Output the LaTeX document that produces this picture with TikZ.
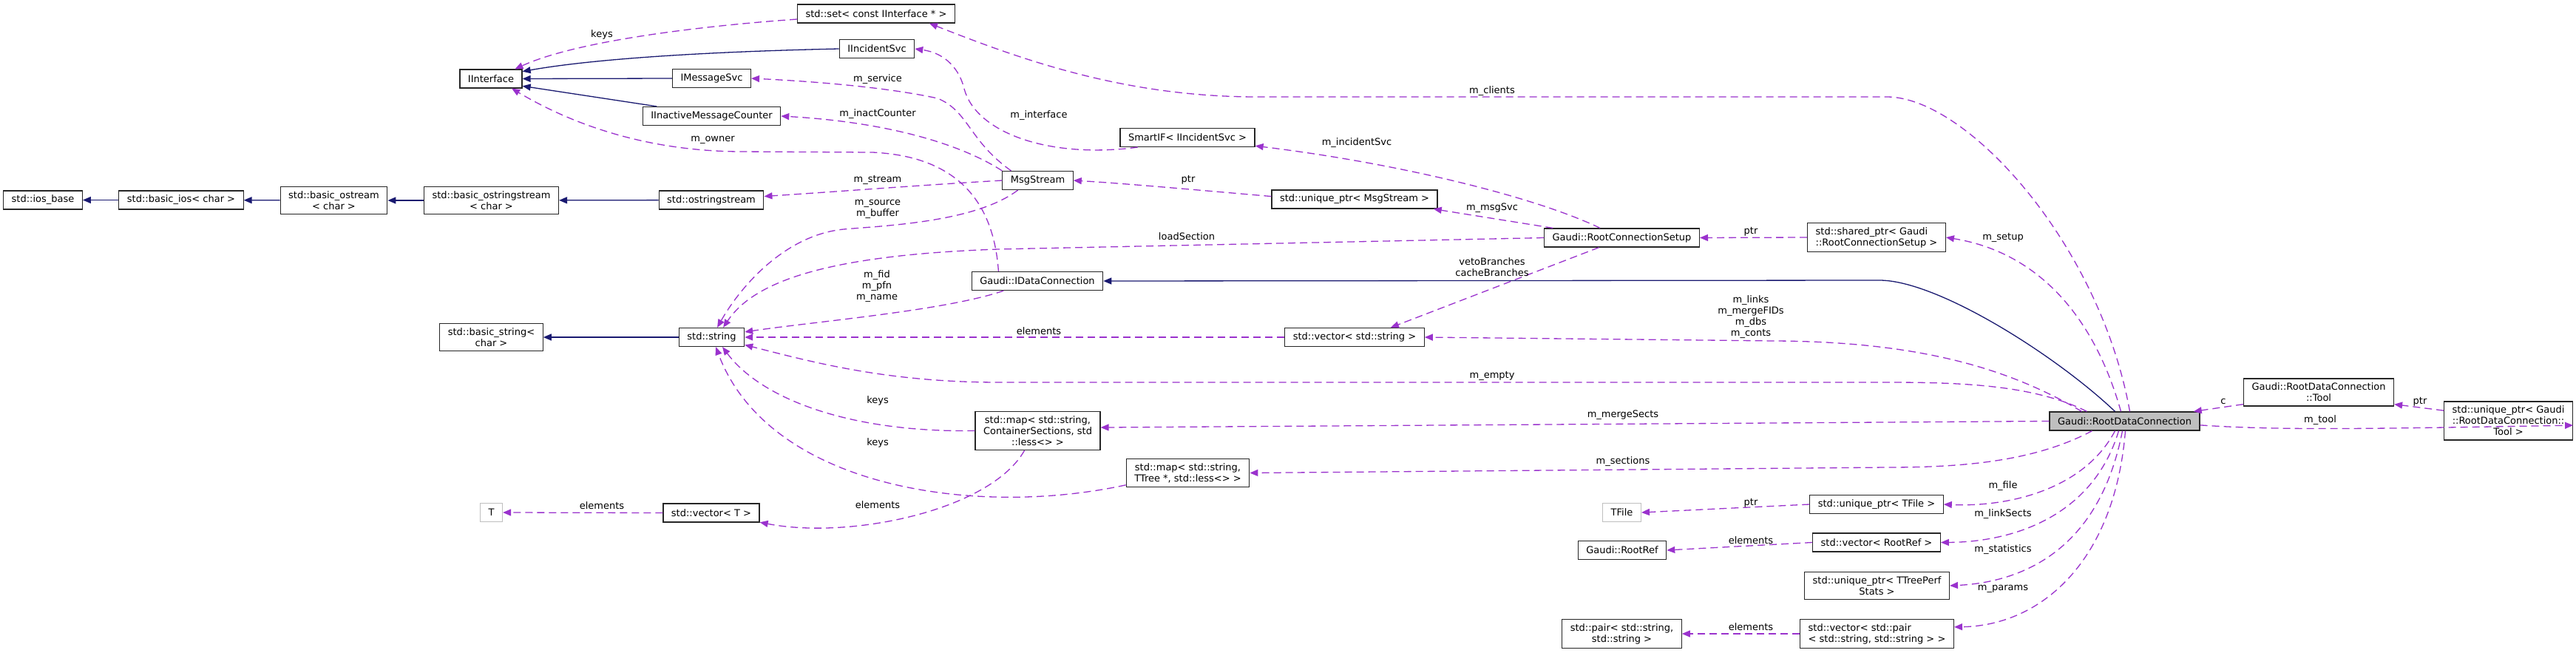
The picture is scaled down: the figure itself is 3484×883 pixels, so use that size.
\documentclass[tikz,border=0pt]{standalone}
\usepackage{fontspec}
\setmainfont{DejaVu Sans}
\usetikzlibrary{arrows.meta, calc}
\definecolor{edgepurple}{HTML}{9A32CD}
\definecolor{edgenavy}{HTML}{191970}
\definecolor{boxgray}{HTML}{BFBFBF}
\newcommand{\gfont}{\fontsize{13}{15}\selectfont}
\tikzset{
	cls/.style={draw=black!85, line width=1.2pt, fill=white, font=\gfont, align=center, inner xsep=11pt, inner ysep=6pt, minimum height=25pt},
	extcls/.style={cls, draw=boxgray},
	curcls/.style={cls, fill=boxgray},
	inherit/.style={edgenavy, line width=1.3pt, -{Triangle[length=11pt, width=9pt]}},
	member/.style={edgepurple, line width=1.3pt, dash pattern=on 10pt off 6pt, -{Triangle[length=11pt, width=9pt]}},
	lbl/.style={font=\gfont, align=center, inner sep=0pt, text=black},
}

\begin{document}
\begin{tikzpicture}[x=1pt, y=-1pt]% {{{ RootDataConnection collaboration
	\useasboundingbox (0, 0) rectangle (3484, 883);

	% classes
	\node[cls] (iosbase) at (58, 270.5) {std::ios\_base};
	\node[cls] (basicios) at (245, 270.5) {std::basic\_ios< char >};
	\node[cls] (basicostream) at (451.5, 271) {std::basic\_ostream\\< char >};
	\node[cls] (basicostrstream) at (664.5, 271) {std::basic\_ostringstream\\< char >};
	\node[cls] (ostrstream) at (962, 270.5) {std::ostringstream};
	\node[cls] (basicstring) at (664.5, 456) {std::basic\_string<\\char >};
	\node[cls] (stdstring) at (962.5, 456) {std::string};
	\node[cls] (iinterface) at (664, 106.5) {IInterface};
	\node[cls] (msgsvc) at (962.5, 106) {IMessageSvc};
	\node[cls] (inactcounter) at (962.5, 157) {IInactiveMessageCounter};
	\node[cls] (ifset) at (1185, 18.5) {std::set< const IInterface * >};
	\node[cls] (incidentsvc) at (1186, 66) {IIncidentSvc};
	\node[cls] (smartif) at (1606, 186) {SmartIF< IIncidentSvc >};
	\node[cls] (msgstream) at (1403.5, 244) {MsgStream};
	\node[cls] (idataconn) at (1403, 380) {Gaudi::IDataConnection};
	\node[cls] (map1) at (1403.5, 582.5) {std::map< std::string,\\ContainerSections, std\\::less<> >};
	\node[cls] (map2) at (1606.5, 639.5) {std::map< std::string,\\TTree *, std::less<> >};
	\node[cls] (vect) at (962, 693.5) {std::vector< T >};
	\node[extcls] (tclass) at (664.5, 693) {T};
	\node[cls] (umsgstream) at (1832, 269.5) {std::unique\_ptr< MsgStream >};
	\node[cls] (vecstring) at (1832, 456) {std::vector< std::string >};
	\node[cls] (rcs) at (2193.5, 321.5) {Gaudi::RootConnectionSetup};
	\node[cls, align=left] (sharedsetup) at (2538, 321) {std::shared\_ptr< Gaudi\\::RootConnectionSetup >};
	\node[curcls] (rdc) at (2873.5, 569.5) {Gaudi::RootDataConnection};
	\node[cls] (tool) at (3136, 530.5) {Gaudi::RootDataConnection\\::Tool};
	\node[cls] (utool) at (3392.5, 569) {std::unique\_ptr< Gaudi\\::RootDataConnection::\\Tool >};
	\node[extcls] (tfile) at (2193.5, 693) {TFile};
	\node[cls] (utfile) at (2538, 682) {std::unique\_ptr< TFile >};
	\node[cls] (rootref) at (2194, 744) {Gaudi::RootRef};
	\node[cls] (vecrootref) at (2538, 733.5) {std::vector< RootRef >};
	\node[cls] (ustats) at (2538.5, 792) {std::unique\_ptr< TTreePerf\\Stats >};
	\node[cls] (pair) at (2193.5, 857) {std::pair< std::string,\\std::string >};
	\node[cls, align=left] (vecpair) at (2538.5, 857) {std::vector< std::pair\\< std::string, std::string > >};

	% inheritance
	\draw[inherit] (basicios) -- (iosbase);
	\draw[inherit] (basicostream) -- (basicios);
	\draw[inherit] (basicostrstream) -- (basicostream);
	\draw[inherit] (ostrstream) -- (basicostrstream);
	\draw[inherit] (stdstring) -- (basicstring);
	\draw[inherit] (incidentsvc.west) .. controls (950, 70) and (800, 80) .. (iinterface.13);
	\draw[inherit] (msgsvc.west) -- (iinterface.east);
	\draw[inherit] (inactcounter.170) -- (iinterface.-13);
	\draw[inherit] ($(rdc.north)+(-13, 0)$) .. controls (2780, 480) and (2620, 379) .. (2542, 379) -- (idataconn.east);

	% members
	\draw[member] (ifset.184) .. controls (950, 35) and (780, 55) .. (iinterface.22) node[lbl] at (814, 47) {keys};
	\draw[member] ($(rdc.north)+(7, 0)$) .. controls (2840, 330) and (2660, 131) .. (2552, 131) -- (1700, 131) .. controls (1520, 131) and (1380, 80) .. ($(ifset.south)+(72, 0)$) node[lbl] at (2018, 123) {m\_clients};
	\draw[member] (msgstream.160) .. controls (1310, 190) and (1310, 150) .. (1268, 133) .. controls (1200, 118) and (1100, 110) .. (msgsvc.east) node[lbl] at (1187, 107) {m\_service};
	\draw[member] (msgstream.north west) .. controls (1300, 195) and (1200, 165) .. (inactcounter.east) node[lbl] at (1187, 154) {m\_inactCounter};
	\draw[member] (smartif.191) .. controls (1420, 215) and (1320, 180) .. (1304, 120) .. controls (1298, 95) and (1280, 72) .. (incidentsvc.east) node[lbl] at (1405, 156) {m\_interface};
	\draw[member] (rcs.156) .. controls (2080, 268) and (1900, 222) .. (smartif.-7) node[lbl] at (1835, 193) {m\_incidentSvc};
	\draw[member] (idataconn.166) .. controls (1345, 290) and (1310, 212) .. (1180, 206) -- (1000, 205) .. controls (860, 204) and (760, 160) .. (iinterface.-25) node[lbl] at (964, 189) {m\_owner};
	\draw[member] (msgstream.west) .. controls (1250, 250) and (1120, 260) .. (ostrstream.4) node[lbl] at (1187, 243) {m\_stream};
	\draw[member] (umsgstream.178) .. controls (1620, 257) and (1520, 248) .. (msgstream.east) node[lbl] at (1607, 243) {ptr};
	\draw[member] (rcs.172) -- (umsgstream.-7) node[lbl] at (2018, 281) {m\_msgSvc};
	\draw[member] (msgstream.206) .. controls (1320, 300) and (1200, 305) .. (1141, 310) .. controls (1060, 318) and (1000, 390) .. (stdstring.60) node[lbl] at (1187, 283) {m\_source\\m\_buffer};
	\draw[member] (rcs.west) -- (1350, 337) .. controls (1120, 345) and (1020, 380) .. (stdstring.40) node[lbl] at (1605, 320) {loadSection};
	\draw[member] (sharedsetup.west) -- (rcs.east) node[lbl] at (2368, 313) {ptr};
	\draw[member] ($(rdc.north)+(-5, 0)$) .. controls (2830, 420) and (2750, 340) .. (sharedsetup.east) node[lbl] at (2709, 321) {m\_setup};
	\draw[member] (rcs.203) -- (vecstring.15) node[lbl] at (2018, 361) {vetoBranches\\cacheBranches};
	\draw[member] (idataconn.196) .. controls (1280, 420) and (1100, 435) .. (stdstring.9) node[lbl] at (1186, 387) {m\_fid\\m\_pfn\\m\_name};
	\draw[member] ($(rdc.north)+(-58, 0)$) .. controls (2720, 500) and (2600, 462) .. (2400, 461) -- (vecstring.east) node[lbl] at (2368, 429) {m\_links\\m\_mergeFIDs\\m\_dbs\\m\_conts};
	\draw[member] (vecstring.west) -- (stdstring.east) node[lbl] at (1405, 448) {elements};
	\draw[member] ($(rdc.north)+(-51, 0)$) .. controls (2750, 520) and (2650, 517) .. (2552, 517) -- (1352, 517) .. controls (1200, 517) and (1100, 490) .. (stdstring.-13) node[lbl] at (2018, 508) {m\_empty};
	\draw[member] (rdc.west) -- (map1.3) node[lbl] at (2195, 561) {m\_mergeSects};
	\draw[member] (map1.west) .. controls (1150, 585) and (1030, 540) .. (stdstring.-42) node[lbl] at (1187, 542) {keys};
	\draw[member] (map2.191) .. controls (1320, 700) and (1040, 660) .. (stdstring.-67) node[lbl] at (1187, 599) {keys};
	\draw[member] (map1.236) .. controls (1340, 690) and (1150, 730) .. (vect.-11) node[lbl] at (1187, 683) {elements};
	\draw[member] (vect.west) -- (tclass.east) node[lbl] at (814, 684) {elements};
	\draw[member] ($(rdc.south)+(-44, 0)$) .. controls (2750, 625) and (2650, 632) .. (2552, 632) -- (map2.east) node[lbl] at (2195, 624) {m\_sections};
	\draw[member] (rdc.-3) .. controls (3080, 582) and (3200, 580) .. (utool.-4) node[lbl] at (3138, 568) {m\_tool};
	\draw[member] (tool.189) -- (rdc.8) node[lbl] at (3007, 543) {c};
	\draw[member] (utool.171) -- (tool.-9) node[lbl] at (3273, 543) {ptr};
	\draw[member] ($(rdc.south)+(-13, 0)$) .. controls (2820, 660) and (2720, 686) .. (utfile.east) node[lbl] at (2709, 657) {m\_file};
	\draw[member] (utfile.west) -- (tfile.east) node[lbl] at (2368, 680) {ptr};
	\draw[member] ($(rdc.south)+(-8, 0)$) .. controls (2830, 700) and (2720, 733) .. (vecrootref.east) node[lbl] at (2709, 695) {m\_linkSects};
	\draw[member] (vecrootref.west) -- (rootref.east) node[lbl] at (2368, 731) {elements};
	\draw[member] ($(rdc.south)+(-3, 0)$) .. controls (2840, 740) and (2740, 787) .. (ustats.east) node[lbl] at (2709, 743) {m\_statistics};
	\draw[member] ($(rdc.south)+(1, 0)$) .. controls (2860, 760) and (2760, 846) .. (vecpair.5) node[lbl] at (2709, 796) {m\_params};
	\draw[member] (vecpair.west) -- (pair.east) node[lbl] at (2368, 848) {elements};
\end{tikzpicture}% }}}
\end{document}
